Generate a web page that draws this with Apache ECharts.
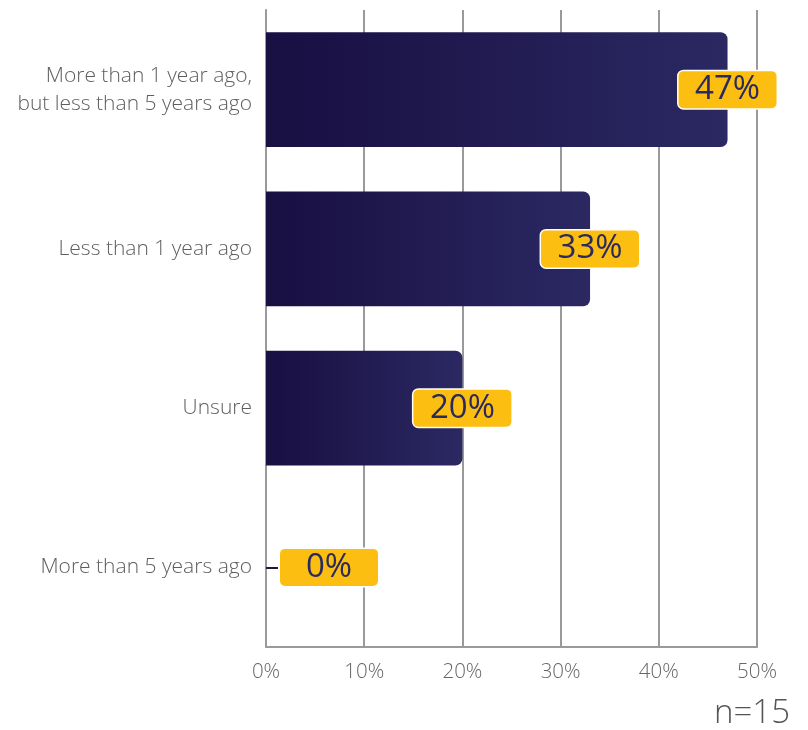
<!DOCTYPE html>
<html>
<head>
<meta charset="utf-8">
<script src="https://cdn.jsdelivr.net/npm/echarts@6/dist/echarts.min.js"></script>
<style>
html,body{margin:0;padding:0;background:#fff;}
#chart{width:808px;height:730px;}
</style>
</head>
<body>
<div id="chart"></div>
<script>
const categories = [
  "More than 1 year ago,\nbut less than 5 years ago",
  "Less than 1 year ago",
  "Unsure",
  "More than 5 years ago"
];
const values = [47, 33, 20, 0];
const xTicks = [0, 10, 20, 30, 40, 50];
const sampleNote = "n=15";

const chart = echarts.init(document.getElementById('chart'), null, {renderer: 'canvas'});
const barGradient = new echarts.graphic.LinearGradient(0, 0, 1, 0, [
  {offset: 0, color: '#180f42'},
  {offset: 1, color: '#2b2862'}
]);
const data = values.map(function (v) {
  return {
    value: v,
    label: {offset: v === 0 ? [63, 0] : [0, 0]}
  };
});
chart.setOption({
  animation: false,
  grid: {left: 266, right: 51, top: 10, bottom: 83, containLabel: false},
  xAxis: {
    type: 'value',
    min: xTicks[0],
    max: xTicks[xTicks.length - 1],
    interval: 10,
    axisLine: {show: true, lineStyle: {color: '#9a9a9a', width: 2}},
    axisTick: {show: false},
    splitLine: {show: true, lineStyle: {color: '#9a9a9a', width: 2}},
    axisLabel: {
      formatter: '{value}%', color: '#666', fontSize: 20.5,
      fontFamily: 'Open Sans', fontWeight: 300, margin: 15
    }
  },
  yAxis: {
    type: 'category',
    inverse: true,
    data: categories,
    axisLine: {show: true, lineStyle: {color: '#9a9a9a', width: 2}},
    axisTick: {
      show: true, alignWithLabel: true, inside: true, length: 12,
      interval: function (i) { return values[i] === 0; },
      lineStyle: {color: '#1a1a3a', width: 2}
    },
    axisLabel: {
      color: '#5e5e5e', fontSize: 21, fontFamily: 'Open Sans', fontWeight: 300,
      margin: 14, lineHeight: 28, align: 'right'
    }
  },
  series: [{
    type: 'bar',
    data: data,
    barCategoryGap: '28%',
    itemStyle: {color: barGradient, borderRadius: [0, 7, 7, 0]},
    label: {
      show: true,
      position: 'right',
      distance: 0,
      formatter: '{c}%',
      color: '#2a2a5e',
      fontSize: 33,
      fontFamily: 'Open Sans',
      backgroundColor: '#fdbe12',
      borderColor: '#ffffff',
      borderWidth: 1.5,
      borderRadius: 5,
      width: 98,
      height: 37,
      align: 'center',
      verticalAlign: 'middle',
      lineHeight: 37,
      padding: 0
    }
  }],
  graphic: [{
    type: 'text',
    right: 18,
    top: 697,
    style: {text: sampleNote, fill: '#555', fontSize: 33, fontFamily: 'Open Sans', fontWeight: 300}
  }]
});
</script>
</body>
</html>
